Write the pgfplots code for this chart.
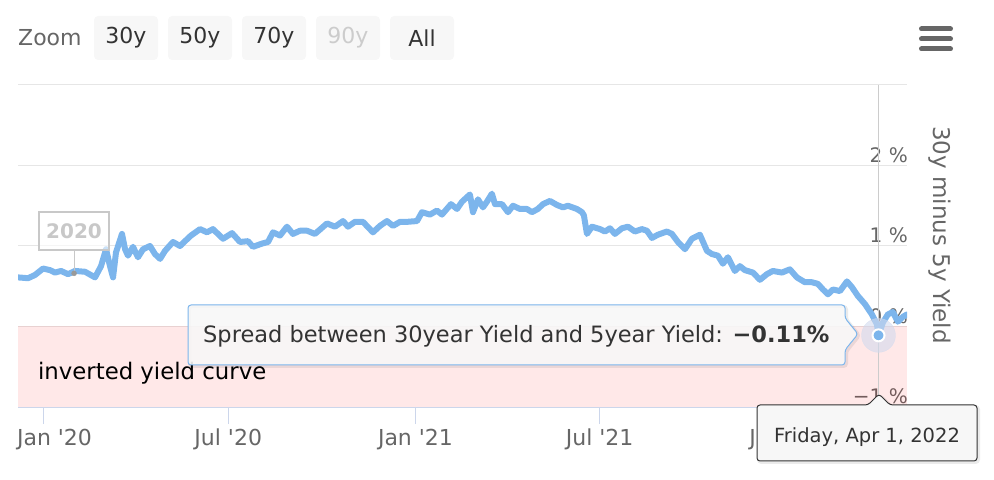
\documentclass[border=0pt]{standalone}
\usepackage{pgfplots}
\usepackage{pgfplotstable}
\pgfplotsset{compat=1.18}
\usepackage{fontspec}
\setmainfont{DejaVu Sans}[Ligatures=TeXOff]
\definecolor{series}{HTML}{7CB5EC}
\definecolor{gridc}{HTML}{E6E6E6}
\definecolor{bandc}{HTML}{FF0000}
\definecolor{axisc}{HTML}{CCD6EB}
\definecolor{labc}{HTML}{666666}
\definecolor{txtc}{HTML}{333333}
\definecolor{btnc}{HTML}{F7F7F7}
\definecolor{dimc}{HTML}{CCCCCC}
\definecolor{flagc}{HTML}{C8C8C8}
\definecolor{haloc}{HTML}{D2DAEE}

% x = days since 1 Jan 2020, y = 30y minus 5y yield (%)
\pgfplotstableread{
day val
-24.6 0.61
-14.7 0.60
-7.9 0.64
0.0 0.72
6.9 0.70
11.8 0.67
17.7 0.69
24.6 0.65
31.4 0.69
41.3 0.68
51.1 0.61
57.0 0.75
61.9 0.96
65.8 0.75
68.8 0.61
71.7 0.92
77.6 1.15
80.6 0.96
83.5 0.88
88.4 0.99
93.3 0.86
98.3 0.96
105.1 1.00
110.0 0.90
115.0 0.84
119.9 0.94
127.7 1.05
134.6 1.00
139.5 1.06
145.4 1.13
154.3 1.21
161.1 1.17
167.0 1.21
171.9 1.15
176.9 1.09
185.7 1.16
193.6 1.05
201.4 1.06
206.3 0.99
215.2 1.03
221.1 1.05
226.0 1.17
232.9 1.13
239.7 1.24
245.6 1.15
252.5 1.19
259.4 1.19
267.2 1.15
279.0 1.28
286.9 1.24
294.8 1.31
299.7 1.24
306.5 1.30
314.4 1.30
324.2 1.17
331.1 1.25
338.0 1.31
343.9 1.25
350.8 1.30
357.6 1.30
367.5 1.31
372.4 1.42
380.2 1.39
387.1 1.44
392.0 1.39
400.9 1.52
406.8 1.46
411.7 1.55
419.5 1.64
422.5 1.42
427.4 1.58
432.3 1.48
436.2 1.55
441.1 1.65
444.1 1.52
451.0 1.52
456.9 1.42
461.8 1.50
468.7 1.46
475.5 1.46
480.4 1.42
486.3 1.46
491.3 1.52
498.1 1.56
505.0 1.51
510.9 1.48
515.8 1.50
524.6 1.46
529.6 1.42
531.5 1.38
534.5 1.15
539.4 1.24
547.3 1.21
552.2 1.18
557.1 1.22
562.0 1.15
568.9 1.22
574.8 1.24
581.6 1.18
588.5 1.21
593.4 1.19
598.4 1.10
604.2 1.14
613.1 1.18
618.0 1.15
623.9 1.05
630.8 0.96
637.6 1.09
645.5 1.14
652.4 0.94
657.3 0.90
663.2 0.88
668.1 0.78
673.0 0.86
679.9 0.69
684.8 0.75
689.7 0.70
697.6 0.67
704.5 0.58
711.3 0.65
717.2 0.69
726.1 0.67
733.9 0.71
740.8 0.61
748.7 0.55
755.5 0.55
761.4 0.53
766.4 0.46
771.3 0.40
776.2 0.46
783.1 0.44
790.0 0.56
794.8 0.49
800.7 0.38
807.6 0.28
814.5 0.15
819.4 0.03
821.0 -0.11
825.3 0.05
830.2 0.15
835.1 0.18
840.0 0.06
845.0 0.12
848.9 0.15
}\spreaddata

\tikzset{f22/.style={font=\fontsize{22bp}{26bp}\selectfont}}

\begin{document}
\begin{tikzpicture}
\path[use as bounding box] (0,0) rectangle (994bp,480bp);
\begin{scope}[x=1bp,y=1bp]
% range selector
\node[anchor=west, text=labc, f22, inner sep=0pt] at (18,442) {Zoom};
\foreach \xa/\lab/\col in {94/30y/txtc, 168/50y/txtc, 242/70y/txtc, 316/90y/dimc, 390/All/txtc} {
  \fill[btnc, rounded corners=4bp] (\xa,420) rectangle ++(64,44);
  \node[text=\col, f22, inner sep=0pt] at (\xa+32,442) {\lab};
}
% menu icon
\foreach \yy in {451,441,431} \draw[labc, line width=5bp, line cap=round] (921.5,\yy) -- (950.5,\yy);
\end{scope}

\begin{axis}[
  at={(18bp,73bp)}, anchor=south west,
  width=889bp, height=322bp, scale only axis,
  xmin=-24.6, xmax=849, ymin=-1, ymax=3,
  axis x line*=bottom, axis y line*=right,
  hide obscured x ticks=false, hide obscured y ticks=false,
  x axis line style={axisc, line width=1bp, -},
  y axis line style={draw=none},
  xtick={0,182,366,547,731},
  xticklabels={\makebox[0pt][l]{\hspace{-26bp}Jan '20}, Jul '20, Jan '21, Jul '21, Jan '22},
  ytick={-1,0,1,2,3},
  yticklabels={−1 \%, 0 \%, 1 \%, 2 \%, {}},
  ymajorgrids, major grid style={gridc, line width=1bp},
  xtick style={axisc, line width=1bp},
  ytick style={draw=none},
  major tick length=17bp, tick align=outside,
  xticklabel style={text=labc, f22, inner sep=0pt, yshift=-5bp},
  yticklabel style={text=labc, font=\fontsize{20bp}{24bp}\selectfont, anchor=south east, inner sep=0pt, xshift=-16bp, yshift=3bp},
]
% plot band (translucent so the tick label beneath stays visible)
\addplot[fill=bandc, fill opacity=0.09, draw=none] coordinates {(-24.6,-1) (849,-1) (849,0) (-24.6,0)} -- cycle;
\addplot[dimc, line width=1bp] coordinates {(821,-1) (821,3)};
\addplot[series, line width=6bp, line join=round, line cap=round] table[x=day, y=val] {\spreaddata};
% flag "2020"
\addplot[flagc, line width=1bp] coordinates {(30.5,0.66) (30.5,0.94)};
\addplot[only marks, color=gray!80, mark=*, mark size=2.5bp] coordinates {(30.5,0.66)};
\node[draw=flagc, line width=1.5bp, fill=white, fill opacity=0.6, text opacity=1, anchor=south, minimum width=70bp, minimum height=38bp, inner sep=0pt, text=flagc, font=\fontsize{20bp}{24bp}\selectfont\bfseries] at (axis cs:30.5,0.94) {2020};
% hovered point
\addplot[only marks, color=haloc, mark=*, mark size=17bp, opacity=0.6] coordinates {(821,-0.11)};
\addplot[only marks, color=series, mark=*, mark size=6bp, mark options={fill=series, draw=white, line width=2bp}] coordinates {(821,-0.11)};
\node[anchor=west, inner sep=0pt, font=\fontsize{22.8bp}{26bp}\selectfont, text=black] at (axis cs:-5,-0.58) {inverted yield curve};
\end{axis}

\begin{scope}[x=1bp,y=1bp]
% y axis title
\node[rotate=-90, text=labc, font=\fontsize{23bp}{27bp}\selectfont, inner sep=0pt] at (940,245) {30y minus 5y Yield};

% series tooltip
\draw[black, opacity=0.08, line width=3bp, rounded corners=3bp, shift={(1.5,-1.5)}] (188,115) -- (188,175) -- (845,175) -- (845,162) -- (858,146) -- (845,130) -- (845,115) -- cycle;
\draw[series, line width=1bp, fill=btnc, fill opacity=0.9, rounded corners=3bp] (188,115) -- (188,175) -- (845,175) -- (845,162) -- (858,146) -- (845,130) -- (845,115) -- cycle;
\node[anchor=west, inner sep=0pt, font=\fontsize{22.5bp}{26bp}\selectfont, text=txtc] at (203,144) {Spread between 30year Yield and 5year Yield: \textbf{−0.11\%}};

% x tooltip
\draw[black, opacity=0.08, line width=3bp, rounded corners=3bp, shift={(1.5,-1.5)}] (757,19) -- (757,75) -- (868,75) -- (879,86) -- (890,75) -- (977,75) -- (977,19) -- cycle;
\draw[txtc, line width=1bp, fill=btnc, rounded corners=3bp] (757,19) -- (757,75) -- (868,75) -- (879,86) -- (890,75) -- (977,75) -- (977,19) -- cycle;
\node[inner sep=0pt, text=txtc, font=\fontsize{19.5bp}{23bp}\selectfont] at (867,43) {Friday, Apr 1, 2022};
\end{scope}
\end{tikzpicture}
\end{document}
